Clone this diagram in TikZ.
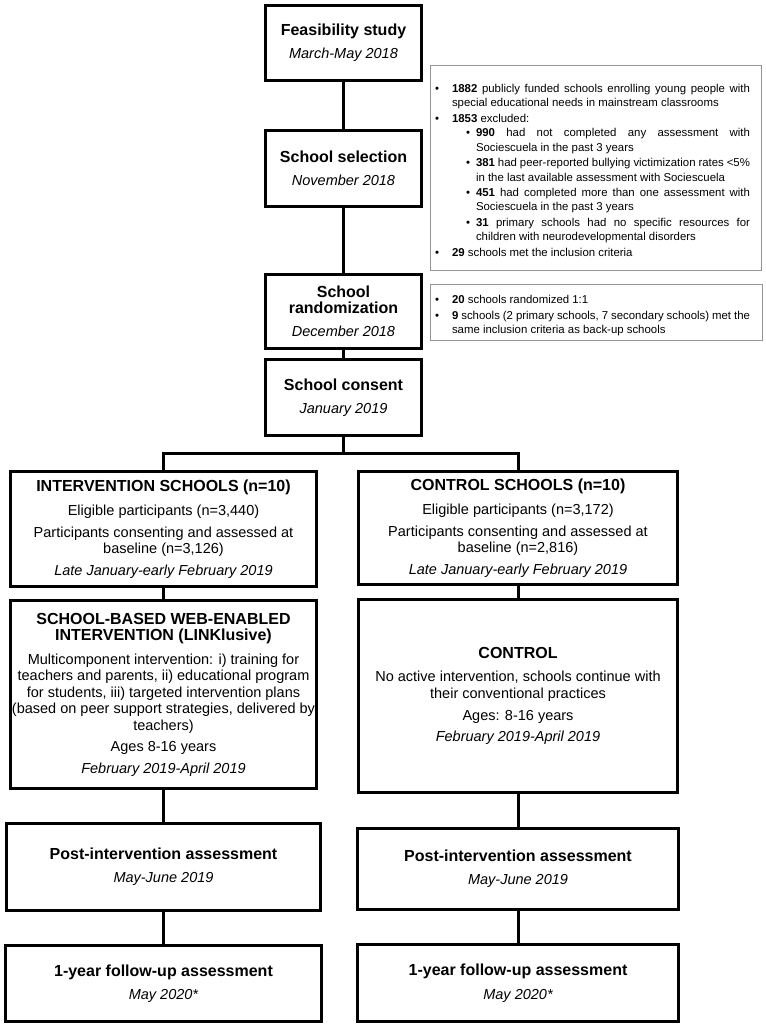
\documentclass[tikz,border=0pt]{standalone}
\usepackage{fontspec}
\setmainfont{Liberation Sans}
\newcommand\boxtitle[1]{{\fontsize{16}{17}\selectfont\bfseries #1}}
\newcommand\boxdate[1]{{\itshape #1}}
\newcommand\notesetup{\hyphenpenalty=10000 \exhyphenpenalty=10000 \tolerance=9999 \relax}
\newenvironment{blist}[2]{\begin{list}{\textbullet}{%
  \setlength\leftmargin{#1}\setlength\labelsep{#2}\setlength\labelwidth{5pt}%
  \setlength\itemsep{1.3pt}\setlength\parsep{0pt}\setlength\topsep{0pt}%
  \setlength\partopsep{0pt}\setlength\itemindent{0pt}\setlength\listparindent{0pt}%
  \setlength\rightmargin{0pt}}}{\end{list}}
\tikzset{
  box/.style={draw=black, line width=3pt, align=center, inner sep=0pt,
    font=\fontsize{14.5}{16.5}\selectfont},
  note/.style={draw=black!42, line width=1.3pt, inner sep=0pt},
  notetext/.style={inner sep=0pt, text width=313pt, align=justify,
    font=\fontsize{11.4}{14.3}\selectfont},
  link/.style={line width=3pt},
}
\begin{document}
\begin{tikzpicture}[x=1pt,y=-1pt]
\fill[white] (0,0) rectangle (765,1027);
\useasboundingbox (0,0) rectangle (765,1027);

% main column
\node[box, minimum width=156pt, minimum height=75pt] (feas) at (343.5,43)
  {\boxtitle{Feasibility study}\\[6.5pt]\boxdate{March-May 2018}};
\node[box, minimum width=156pt, minimum height=76pt] (sel) at (343.5,168.5)
  {\boxtitle{School selection}\\[6.5pt]\boxdate{November 2018}};
\node[box, minimum width=156pt, minimum height=74pt] (rand) at (343.5,311.5)
  {\boxtitle{School}\\\boxtitle{randomization}\\[6.5pt]\boxdate{December 2018}};
\node[box, minimum width=156pt, minimum height=76pt] (cons) at (343.5,397.5)
  {\boxtitle{School consent}\\[6.5pt]\boxdate{January 2019}};

% intervention column
\node[box, minimum width=306pt, minimum height=115pt] (int1) at (163.5,529)
  {\boxtitle{INTERVENTION SCHOOLS (n=10)}\\[7.5pt]
   Eligible participants (n=3,440)\\[5pt]
   Participants consenting and assessed at\\
   baseline (n=3,126)\\[5pt]
   \boxdate{Late January-early February 2019}};
\node[box, minimum width=306pt, minimum height=188pt] (int2) at (163.5,694.5)
  {\boxtitle{SCHOOL-BASED WEB-ENABLED}\\
   \boxtitle{INTERVENTION (LINKlusive)}\\[7pt]
   Multicomponent intervention: i) training for\\
   teachers and parents, ii) educational program\\
   for students, iii) targeted intervention plans\\
   (based on peer support strategies, delivered by\\
   teachers)\\[5pt]
   Ages 8-16 years\\[5pt]
   \boxdate{February 2019-April 2019}};
\node[box, minimum width=314pt, minimum height=87pt] (int3) at (163.5,867)
  {\boxtitle{Post-intervention assessment}\\[6.5pt]\boxdate{May-June 2019}};
\node[box, minimum width=316pt, minimum height=76pt] (int4) at (163.5,983.5)
  {\boxtitle{1-year follow-up assessment}\\[7pt]\boxdate{May 2020*}};

% control column
\node[box, minimum width=319pt, minimum height=113pt] (con1) at (518,528)
  {\boxtitle{CONTROL SCHOOLS (n=10)}\\[7.5pt]
   Eligible participants (n=3,172)\\[5pt]
   Participants consenting and assessed at\\
   baseline (n=2,816)\\[5pt]
   \boxdate{Late January-early February 2019}};
\node[box, minimum width=319pt, minimum height=193pt] (con2) at (518,696)
  {\boxtitle{CONTROL}\\[6.5pt]
   No active intervention, schools continue with\\
   their conventional practices\\[6pt]
   Ages: 8-16 years\\[4pt]
   \boxdate{February 2019-April 2019}};
\node[box, minimum width=321pt, minimum height=81pt] (con3) at (518,869)
  {\boxtitle{Post-intervention assessment}\\[6.5pt]\boxdate{May-June 2019}};
\node[box, minimum width=321pt, minimum height=77pt] (con4) at (518,983)
  {\boxtitle{1-year follow-up assessment}\\[7pt]\boxdate{May 2020*}};

% side notes
\node[note, minimum width=331pt, minimum height=205pt] (sb1) at (596,168) {};
\node[notetext] (sb1t) at (593.5,167.5) {\notesetup
\begin{blist}{15pt}{13pt}
\item \textbf{1882} publicly funded schools enrolling young people with\linebreak special educational needs in mainstream classrooms
\item \textbf{1853} excluded:
\begin{blist}{24pt}{6pt}
\item \textbf{990} had not completed any assessment with\linebreak Sociescuela in the past 3 years
\item \textbf{381} had peer-reported bullying victimization rates <5\%\linebreak in the last available assessment with Sociescuela
\item \textbf{451} had completed more than one assessment with\linebreak Sociescuela in the past 3 years
\item \textbf{31} primary schools had no specific resources for\linebreak children with neurodevelopmental disorders
\end{blist}
\item \textbf{29} schools met the inclusion criteria
\end{blist}};
\node[note, minimum width=332pt, minimum height=56pt] (sb2) at (596.5,312.5) {};
\node[notetext] (sb2t) at (593.5,312.5) {\notesetup
\begin{blist}{15pt}{13pt}
\item \textbf{20} schools randomized 1:1
\item \textbf{9} schools (2 primary schools, 7 secondary schools) met the\linebreak same inclusion criteria as back-up schools
\end{blist}};

% connectors
\coordinate (br) at (343.5,453);
\draw[link] (feas) -- (sel);
\draw[link] (sel) -- (rand);
\draw[link] (rand) -- (cons);
\draw[link] (cons) -- (br);
\draw[link] (int1.north) -- (int1.north |- br) -- (con1.north |- br) -- (con1.north);
\draw[link] (int1) -- (int2);
\draw[link] (int2) -- (int3);
\draw[link] (int3) -- (int4);
\draw[link] (con1) -- (con2);
\draw[link] (con2) -- (con3);
\draw[link] (con3) -- (con4);
\end{tikzpicture}
\end{document}
